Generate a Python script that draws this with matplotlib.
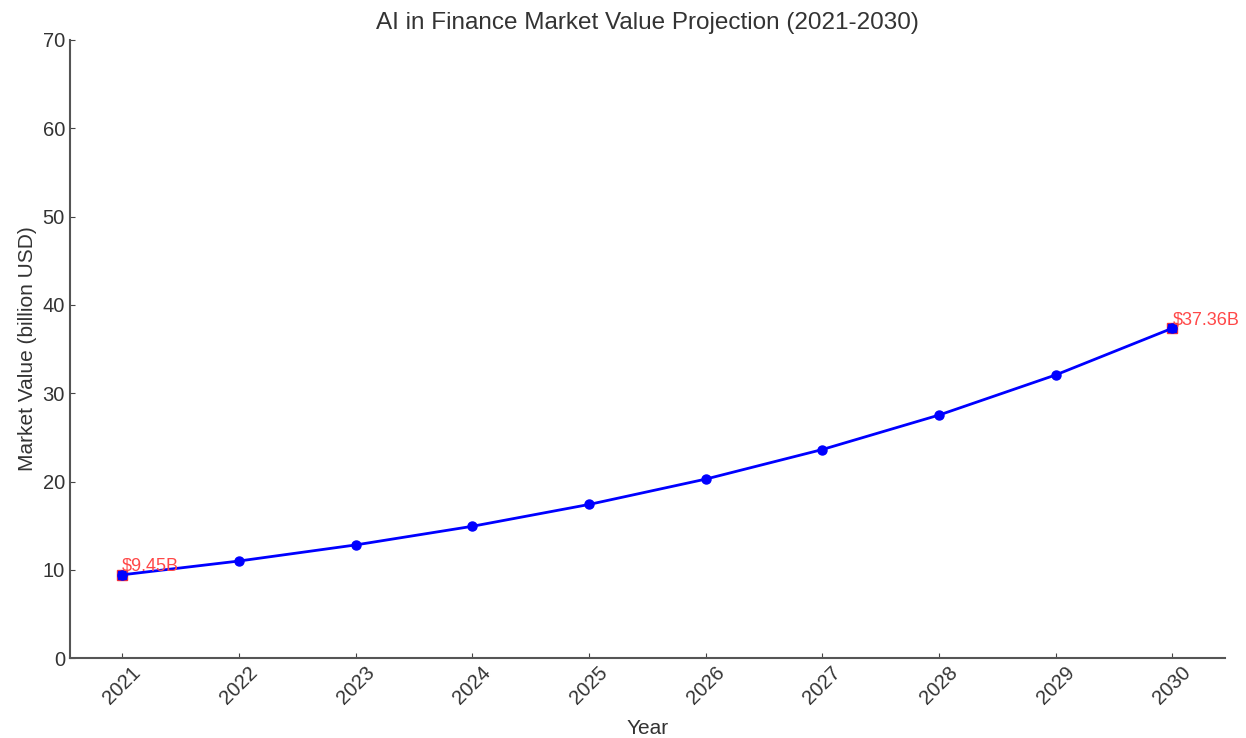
import matplotlib.pyplot as plt

plt.rcParams['font.family'] = ['Liberation Sans', 'DejaVu Sans']

# Projected market values (billion USD)
years = [2021, 2022, 2023, 2024, 2025, 2026, 2027, 2028, 2029, 2030]
values = [9.45, 11.01, 12.83, 14.94, 17.41, 20.28, 23.63, 27.53, 32.07, 37.36]

fig = plt.figure(figsize=(12.46, 7.38), dpi=100)
ax = fig.add_axes([0.056, 0.108, 0.927, 0.838])

ax.plot(years, values, color='blue', linewidth=2, marker='o', markersize=6.5)

# highlight first and last value
for x, y in [(years[0], values[0]), (years[-1], values[-1])]:
    ax.plot(x, y, marker='s', color='#ff3030', markersize=7.5, zorder=1)
    ax.plot(x, y, marker='s', color='blue', markersize=5.5, zorder=3)
    ax.text(x, y, f"\\${y:.2f}B", color='#ff4848', fontsize=13, ha='left', va='bottom')

ax.set_ylim(0, 70)
ax.set_xticks(years)
ax.set_xticklabels([str(y) for y in years], rotation=45)
ax.tick_params(direction='in', labelsize=14.5, colors='#444444', labelcolor='#333333')
ax.spines['top'].set_visible(False)
ax.spines['right'].set_visible(False)
for s in ['left', 'bottom']:
    ax.spines[s].set_color('#555555')
    ax.spines[s].set_linewidth(1.5)

ax.set_title("AI in Finance Market Value Projection (2021-2030)", fontsize=17.5, color='#333333', pad=8)
ax.set_xlabel("Year", fontsize=15, color='#333333', labelpad=8)
ax.set_ylabel("Market Value (billion USD)", fontsize=15, color='#333333')

fig.savefig("out.png", dpi=100)
